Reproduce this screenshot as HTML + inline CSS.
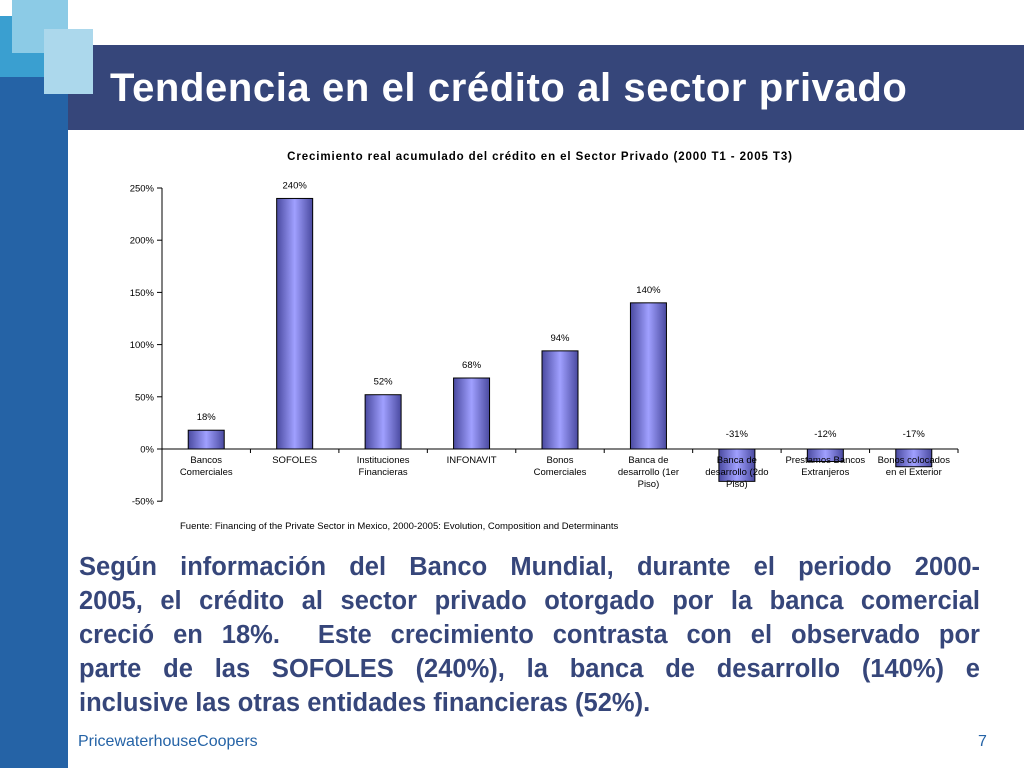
<!DOCTYPE html>
<html><head><meta charset="utf-8"><style>
body{margin:0;width:1024px;height:768px;position:relative;background:#fff;font-family:"Liberation Sans",Arial,sans-serif;overflow:hidden}
.a{position:absolute}
.ln{text-align:justify;text-align-last:justify;white-space:nowrap;height:34px}
.ln.last{text-align-last:left}
</style></head><body>
<div class="a" style="left:0;top:77px;width:68px;height:691px;background:#2563a6"></div>
<div class="a" style="left:0;top:16px;width:45px;height:61px;background:#3a9fd0"></div>
<div class="a" style="left:12px;top:0;width:56px;height:53px;background:#8ccbe6"></div>
<div class="a" style="left:68px;top:45px;width:956px;height:85px;background:#36467a"></div>
<div class="a" style="left:44px;top:29px;width:49px;height:65px;background:#acd8ec"></div>
<div class="a" style="left:110px;top:64px;color:#fff;font-weight:bold;font-size:40px;line-height:48px;letter-spacing:0.6px">Tendencia en el crédito al sector privado</div>
<svg class="a" style="left:0;top:0" width="1024" height="768" id="chart"></svg>
<div class="a" style="left:79px;top:550px;width:901px;color:#36467a;font-weight:bold;font-size:25.5px;line-height:34px">
<div class="ln">Según información del Banco Mundial, durante el periodo 2000-</div>
<div class="ln">2005, el crédito al sector privado otorgado por la banca comercial</div>
<div class="ln">creció en 18%.&nbsp; Este crecimiento contrasta con el observado por</div>
<div class="ln">parte de las SOFOLES (240%), la banca de desarrollo (140%) e</div>
<div class="ln last">inclusive las otras entidades financieras (52%).</div>
</div>
<div class="a" style="left:78px;top:733px;color:#2563a6;font-size:16px">PricewaterhouseCoopers</div>
<div class="a" style="left:978px;top:733px;color:#2563a6;font-size:16px">7</div>
<script>
const categories=[["Bancos","Comerciales"],["SOFOLES"],["Instituciones","Financieras"],["INFONAVIT"],["Bonos","Comerciales"],["Banca de","desarrollo (1er","Piso)"],["Banca de","desarrollo (2do","Piso)"],["Prestamos Bancos","Extranjeros"],["Bonos colocados","en el Exterior"]];
const values=[18,240,52,68,94,140,-31,-12,-17];
const ticks=[-50,0,50,100,150,200,250];
const NS="http://www.w3.org/2000/svg",svg=document.getElementById('chart');
const x0=162,x1=958,y0=449,ppu=52.2/50;
const y=v=>y0-v*ppu, bw=(x1-x0)/categories.length, cx=i=>x0+bw*(i+0.5);
function mk(t,a,txt){const e=document.createElementNS(NS,t);for(const k in a)e.setAttribute(k,a[k]);if(txt!=null)e.textContent=txt;svg.appendChild(e);return e;}
const defs=mk('defs',{});defs.innerHTML='<linearGradient id="g" x1="0" x2="1"><stop offset="0" stop-color="#4a4aa0"/><stop offset="0.5" stop-color="#a0a0ff"/><stop offset="1" stop-color="#4a4aa0"/></linearGradient>';
let t=mk('text',{x:540,y:160,'font-size':11.5,'text-anchor':'middle','font-weight':'bold',fill:'#000','letter-spacing':'0.9'},'Crecimiento real acumulado del crédito en el Sector Privado (2000 T1 - 2005 T3)');

ticks.forEach(v=>{let l=mk('line',{x1:x0-5,x2:x0,y1:y(v),y2:y(v),stroke:'#000'});
let s=mk('text',{x:x0-8,y:y(v)+3.5,'font-size':9.5,'text-anchor':'end'},v+'%');});
values.forEach((v,i)=>{const top=Math.min(y(v),y0),h=Math.abs(y(v)-y0);
let r=mk('rect',{x:cx(i)-18,y:top,width:36,height:h,fill:'url(#g)',stroke:'#000','stroke-width':1});
let ly=v>=0?y(v)-10:y0-12;let s=mk('text',{x:cx(i),y:ly,'font-size':9.5,'text-anchor':'middle'},v+'%');});
let ax=mk('line',{x1:x0,x2:x0,y1:y(250),y2:y(-50),stroke:'#000'});
let xa=mk('line',{x1:x0,x2:x1,y1:y0,y2:y0,stroke:'#000'});
categories.forEach((c,i)=>{let tk=mk('line',{x1:x0+bw*(i+1),x2:x0+bw*(i+1),y1:y0,y2:y0+4,stroke:'#000'});
c.forEach((ln,j)=>{let s=mk('text',{x:cx(i),y:y0+14+j*12,'font-size':9.5,'text-anchor':'middle'},ln);});});
let src=mk('text',{x:180,y:529,'font-size':9.5},'Fuente: Financing of the Private Sector in Mexico, 2000-2005: Evolution, Composition and Determinants');

</script>
</body></html>
